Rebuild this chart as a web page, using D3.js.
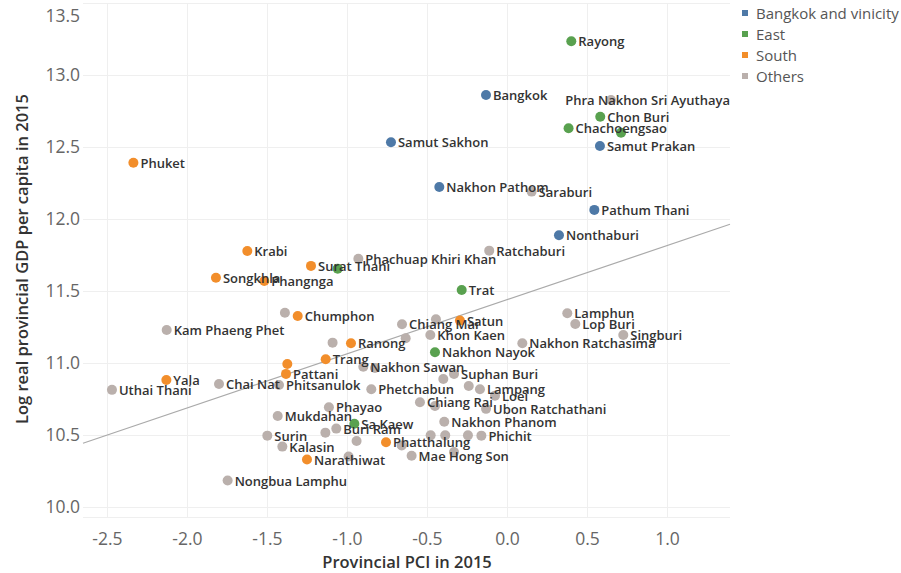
<!DOCTYPE html>
<html>
<head>
<meta charset="utf-8">
<script src="https://cdn.jsdelivr.net/npm/d3@7"></script>
<style>
  html, body { margin: 0; padding: 0; background: #fff; }
  svg { display: block; font-family: "Open Sans", "Noto Sans", sans-serif; }
</style>
</head>
<body>
<svg id="chart" width="901" height="573"></svg>
<script>
// Provinces: name (empty = no label), region, PCI 2015, log real GDP per capita 2015
const provinces = [
  "Bangkok", "Samut Sakhon", "Nakhon Pathom", "Pathum Thani", "Nonthaburi", "Samut Prakan",
  "Rayong", "Chon Buri", "Chachoengsao", "", "Trat", "Nakhon Nayok", "Sa Kaew", "",
  "Phuket", "Krabi", "Surat Thani", "Songkhla", "Phangnga", "Chumphon", "Ranong", "Trang",
  "", "Pattani", "Yala", "Narathiwat", "Phatthalung", "Satun",
  "Phra Nakhon Sri Ayuthaya", "Saraburi", "Ratchaburi", "Phachuap Khiri Khan", "Kam Phaeng Phet",
  "Uthai Thani", "Chai Nat", "Phitsanulok", "", "", "Nakhon Sawan", "", "Phetchabun", "Phayao",
  "Mukdahan", "Buri Ram", "", "Surin", "Kalasin", "", "Nongbua Lamphu", "",
  "Chiang Mai", "", "Khon Kaen", "", "Nakhon Ratchasima", "Lamphun", "Lop Buri", "Singburi",
  "Suphan Buri", "", "", "Lampang", "Loei", "Chiang Rai", "", "Ubon Ratchathani",
  "Nakhon Phanom", "Phichit", "", "", "", "Mae Hong Son", "", ""
];
const regions = [
  "Bangkok and vinicity", "Bangkok and vinicity", "Bangkok and vinicity", "Bangkok and vinicity", "Bangkok and vinicity", "Bangkok and vinicity",
  "East", "East", "East", "East", "East", "East", "East", "East",
  "South", "South", "South", "South", "South", "South", "South", "South",
  "South", "South", "South", "South", "South", "South",
  "Others", "Others", "Others", "Others", "Others",
  "Others", "Others", "Others", "Others", "Others", "Others", "Others", "Others", "Others",
  "Others", "Others", "Others", "Others", "Others", "Others", "Others", "Others",
  "Others", "Others", "Others", "Others", "Others", "Others", "Others", "Others",
  "Others", "Others", "Others", "Others", "Others", "Others", "Others", "Others",
  "Others", "Others", "Others", "Others", "Others", "Others", "Others", "Others"
];
const pci = [
  -0.131, -0.725, -0.423, 0.546, 0.325, 0.581,
  0.402, 0.583, 0.385, 0.713, -0.283, -0.450, -0.954, -1.058,
  -2.335, -1.623, -1.225, -1.819, -1.517, -1.308, -0.975, -1.133,
  -1.373, -1.381, -2.129, -1.250, -0.756, -0.294,
  0.650, 0.154, -0.111, -0.929, -2.127,
  -2.469, -1.800, -1.425, -1.388, -1.090, -0.898, -0.825, -0.848, -1.113,
  -1.433, -1.067, -1.135, -1.498, -1.404, -0.940, -1.746, -0.990,
  -0.656, -0.444, -0.479, -0.633, 0.096, 0.377, 0.427, 0.727,
  -0.331, -0.398, -0.239, -0.169, -0.075, -0.544, -0.450, -0.131,
  -0.392, -0.160, -0.477, -0.386, -0.244, -0.596, -0.331, -0.658
];
const gdp = [
  12.861, 12.533, 12.222, 12.063, 11.887, 12.507,
  13.234, 12.710, 12.630, 12.599, 11.507, 11.074, 10.578, 11.655,
  12.391, 11.778, 11.674, 11.592, 11.569, 11.326, 11.137, 11.026,
  10.993, 10.924, 10.882, 10.329, 10.449, 11.294,
  12.826, 12.190, 11.780, 11.724, 11.229,
  10.813, 10.854, 10.847, 11.349, 11.141, 10.974, 10.965, 10.817, 10.692,
  10.632, 10.544, 10.516, 10.495, 10.419, 10.458, 10.183, 10.350,
  11.269, 11.303, 11.194, 11.171, 11.137, 11.345, 11.271, 11.194,
  10.924, 10.889, 10.840, 10.817, 10.773, 10.727, 10.701, 10.681,
  10.592, 10.495, 10.497, 10.497, 10.497, 10.356, 10.382, 10.426
];

const legendRegions = ["Bangkok and vinicity", "East", "South", "Others"];
const regionColors = ["#4e79a7", "#59a14f", "#f28e2b", "#bab0ac"];
const xTicks = [-2.5, -2.0, -1.5, -1.0, -0.5, 0.0, 0.5, 1.0];
const yTicks = [10.0, 10.5, 11.0, 11.5, 12.0, 12.5, 13.0, 13.5];
const xDomain = [-2.65, 1.394];
const yDomain = [9.93, 13.5];
// Linear trend line: gdp = trendIntercept + trendSlope * pci
const trendIntercept = 11.439;
const trendSlope = 0.376;

const xTitle = "Provincial PCI in 2015";
const yTitle = "Log real provincial GDP per capita in 2015";

const svg = d3.select("#chart");
const plot = { left: 83, right: 730, top: 3, bottom: 517 };

const x = d3.scaleLinear().domain(xDomain).range([plot.left, plot.right]);
const y = d3.scaleLinear().domain(yDomain).range([plot.bottom, plot.top]);
const color = d3.scaleOrdinal().domain(legendRegions).range(regionColors);

const data = provinces.map((name, i) => ({
  name, region: regions[i], pci: pci[i], gdp: gdp[i]
}));

// Gridlines
const grid = svg.append("g").attr("stroke", "#efefef").attr("stroke-width", 1);
grid.selectAll("line.v").data(xTicks).join("line")
  .attr("x1", d => Math.round(x(d)) + 0.5).attr("x2", d => Math.round(x(d)) + 0.5)
  .attr("y1", plot.top).attr("y2", plot.bottom);
grid.selectAll("line.h").data(yTicks).join("line")
  .attr("y1", d => Math.round(y(d)) + 0.5).attr("y2", d => Math.round(y(d)) + 0.5)
  .attr("x1", plot.left).attr("x2", plot.right);
grid.append("line")
  .attr("x1", plot.left).attr("x2", plot.right)
  .attr("y1", plot.bottom + 0.5).attr("y2", plot.bottom + 0.5);

// Axes (ticks and labels only, Tableau style)
const fmt = d => d.toFixed(1);
const xAxis = d3.axisBottom(x).tickValues(xTicks).tickFormat(fmt).tickSize(0).tickPadding(0);
const gx = svg.append("g").attr("transform", `translate(0,${plot.bottom})`).call(xAxis);
gx.select(".domain").remove();
gx.selectAll("text")
  .attr("y", 16).attr("dy", "0.71em")
  .attr("fill", "#666").style("font-size", "17.5px")
  .style("font-family", "'Open Sans', sans-serif");

const yAxis = d3.axisLeft(y).tickValues(yTicks).tickFormat(fmt).tickSize(0).tickPadding(0);
const gy = svg.append("g").attr("transform", `translate(${plot.left - 3},0)`).call(yAxis);
gy.select(".domain").remove();
gy.selectAll("text")
  .attr("fill", "#666").style("font-size", "17.5px")
  .style("font-family", "'Open Sans', sans-serif")
  .attr("dy", function (d) {
    // keep the top label inside the frame
    const py = y(d);
    return py < 14 ? `${14 - py}px` : "0.32em";
  })
  .attr("dominant-baseline", function (d) { return y(d) < 14 ? "central" : null; });

// Axis titles
svg.append("text")
  .attr("x", 407).attr("y", 568)
  .attr("text-anchor", "middle")
  .attr("fill", "#333").style("font-size", "16.5px").style("font-weight", 600)
  .text(xTitle);
svg.append("text")
  .attr("transform", `translate(28,259) rotate(-90)`)
  .attr("text-anchor", "middle")
  .attr("fill", "#333").style("font-size", "16.5px").style("font-weight", 600)
  .text(yTitle);

// Trend line
svg.append("line")
  .attr("x1", x(xDomain[0])).attr("y1", y(trendIntercept + trendSlope * xDomain[0]))
  .attr("x2", x(xDomain[1])).attr("y2", y(trendIntercept + trendSlope * xDomain[1]))
  .attr("stroke", "#aaaaaa").attr("stroke-width", 1.2);

// Marks
svg.append("g").selectAll("circle").data(data).join("circle")
  .attr("cx", d => x(d.pci)).attr("cy", d => y(d.gdp))
  .attr("r", 5)
  .attr("fill", d => color(d.region));

// Mark labels, placed right of each mark and kept inside the plot
const labels = svg.append("g")
  .style("font-size", "13px").style("font-weight", 600).attr("fill", "#333");
labels.selectAll("text").data(data.filter(d => d.name)).join("text")
  .attr("x", d => x(d.pci) + 7)
  .attr("y", d => y(d.gdp))
  .attr("dominant-baseline", "central")
  .text(d => d.name)
  .each(function () {
    const t = d3.select(this);
    const w = this.getComputedTextLength();
    const x0 = +t.attr("x");
    if (x0 + w > plot.right) t.attr("x", plot.right - w);
  });

// Legend
const legend = svg.append("g").attr("transform", "translate(742,13)");
const items = legend.selectAll("g").data(legendRegions).join("g")
  .attr("transform", (d, i) => `translate(0,${i * 21})`);
items.append("rect").attr("x", 0).attr("y", -3).attr("width", 6).attr("height", 6)
  .attr("fill", d => color(d));
items.append("text").attr("x", 14).attr("y", 0)
  .attr("dominant-baseline", "central")
  .attr("fill", "#555").style("font-size", "15px")
  .text(d => d);
</script>
</body>
</html>
